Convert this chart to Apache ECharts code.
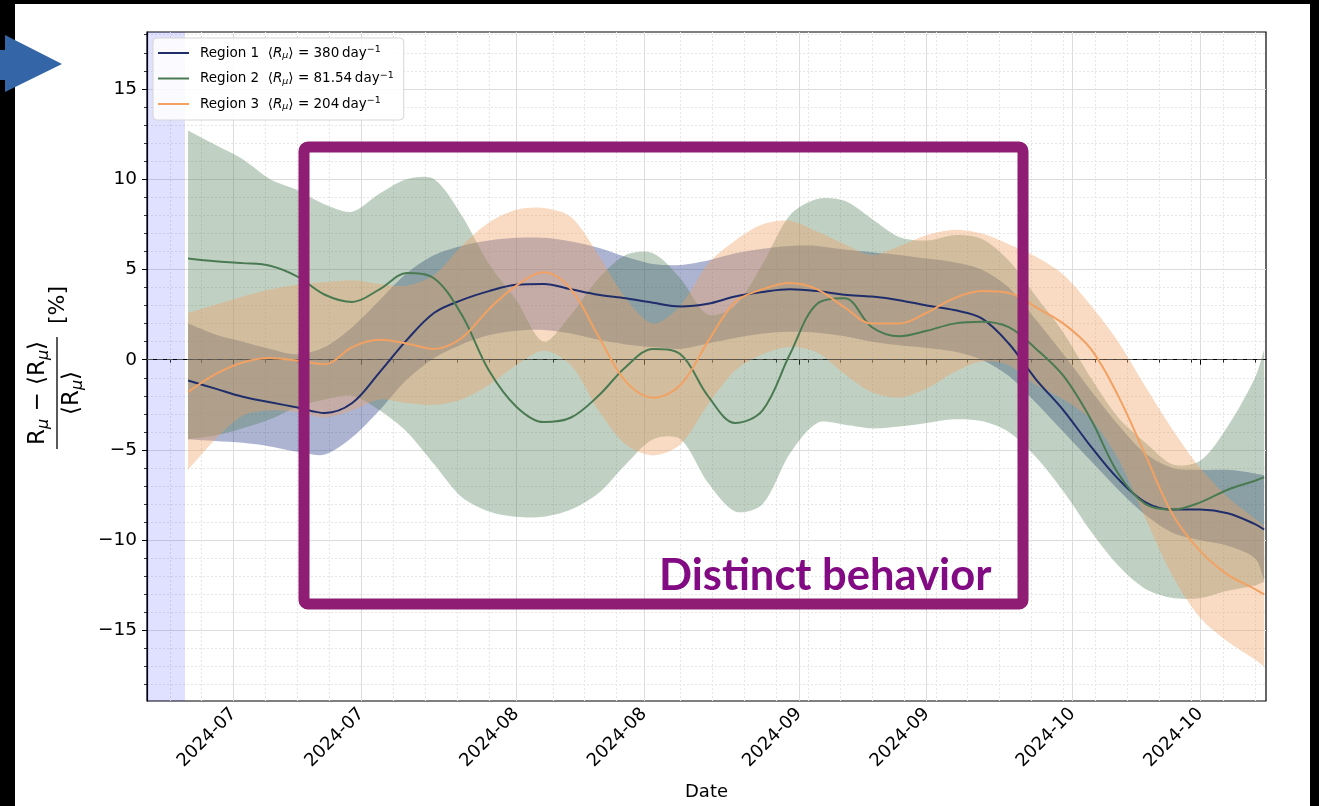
<!DOCTYPE html>
<html>
<head>
<meta charset="utf-8">
<script src="https://cdn.jsdelivr.net/npm/echarts@6/dist/echarts.min.js"></script>
<style>
  html, body { margin: 0; padding: 0; background: #fff; }
  #chart { width: 1319px; height: 806px; }
</style>
</head>
<body>
<div id="chart"></div>
<script>
// sampled every 3 days
const dates = ['2024-06-26','2024-06-29','2024-07-02','2024-07-05','2024-07-08','2024-07-11','2024-07-14','2024-07-17','2024-07-20','2024-07-23',
  '2024-07-26','2024-07-29','2024-08-01','2024-08-04','2024-08-07','2024-08-10','2024-08-13','2024-08-16','2024-08-19','2024-08-22',
  '2024-08-25','2024-08-28','2024-08-31','2024-09-03','2024-09-06','2024-09-09','2024-09-12','2024-09-15','2024-09-18','2024-09-21',
  '2024-09-24','2024-09-27','2024-09-30','2024-10-03','2024-10-06','2024-10-09','2024-10-12','2024-10-15','2024-10-18','2024-10-21','2024-10-22']

const region1Mean = [-1.15,-1.6,-2.05,-2.35,-2.65,-2.95,-2.4,-0.7,1.1,2.6,
  3.3,3.8,4.15,4.2,3.9,3.6,3.4,3.15,2.95,3.1,
  3.5,3.75,3.9,3.8,3.6,3.5,3.3,3.0,2.75,2.3,
  0.9,-1.1,-2.8,-4.8,-6.6,-7.9,-8.3,-8.3,-8.5,-9.1,-9.4]
const region1Upper = [2.0,1.4,1.0,0.6,0.3,0.7,1.8,3.3,4.8,5.8,
  6.3,6.6,6.75,6.75,6.55,6.2,5.7,5.3,5.25,5.5,
  5.9,6.15,6.3,6.3,6.1,5.95,5.8,5.6,5.4,5.0,
  4.0,2.2,0.3,-1.7,-3.6,-5.2,-6.0,-6.1,-6.1,-6.3,-6.4]
const region1Lower = [-4.4,-4.5,-4.6,-4.8,-5.1,-5.25,-4.3,-2.8,-1.1,0.1,
  0.85,1.35,1.6,1.65,1.45,1.1,0.85,0.7,0.6,0.9,
  1.2,1.45,1.55,1.5,1.3,1.0,0.8,0.65,0.45,0.0,
  -0.9,-2.4,-4.0,-5.6,-7.2,-8.6,-9.6,-10.0,-10.3,-11.0,-12.2]

const region2Mean = [5.6,5.45,5.35,5.2,4.6,3.6,3.2,3.9,4.8,4.5,
  2.5,-0.6,-2.6,-3.45,-3.2,-2.0,-0.4,0.6,0.3,-2.0,
  -3.5,-2.8,0.3,3.1,3.4,1.8,1.3,1.6,2.0,2.1,
  1.8,0.6,-0.9,-3.3,-6.3,-8.0,-8.3,-7.9,-7.2,-6.7,-6.5]
const region2Upper = [12.7,11.9,11.1,10.0,9.4,8.6,8.2,9.2,10.0,10.0,
  8.0,5.3,3.3,1.0,2.5,4.5,5.8,5.9,4.5,2.5,
  3.0,5.3,8.0,8.9,8.8,7.8,6.8,6.6,6.9,6.7,
  5.5,3.5,1.5,-1.0,-3.2,-4.6,-5.8,-5.6,-3.7,-1.0,0.55]
const region2Lower = [-4.4,-4.2,-3.8,-3.3,-2.6,-2.2,-2.0,-2.8,-4.0,-5.8,
  -7.6,-8.4,-8.7,-8.7,-8.3,-7.4,-5.8,-4.4,-4.4,-6.8,
  -8.4,-8.0,-5.2,-3.5,-3.6,-3.8,-3.7,-3.5,-3.3,-3.4,
  -4.0,-5.4,-7.3,-9.5,-11.4,-12.7,-13.2,-13.2,-12.8,-12.5,-12.3]

const region3Mean = [-1.8,-0.8,-0.15,0.1,-0.05,-0.25,0.7,1.1,0.9,0.6,
  1.2,2.8,4.1,4.85,3.9,1.3,-1.2,-2.1,-1.4,1.0,
  3.2,3.9,4.25,3.9,2.9,2.0,2.0,2.6,3.4,3.8,
  3.7,2.9,2.0,0.6,-2.0,-5.3,-8.6,-10.6,-11.9,-12.7,-13.0]
const region3Upper = [2.6,3.05,3.5,3.9,4.15,4.3,4.4,4.2,4.1,4.7,
  6.3,7.6,8.3,8.4,7.9,5.8,3.4,2.0,3.0,5.3,
  6.6,7.5,7.7,7.1,6.4,5.8,6.3,6.9,7.2,7.0,
  6.4,5.7,4.7,3.0,1.0,-1.5,-3.9,-6.0,-7.6,-8.8,-9.2]
const region3Lower = [-6.1,-4.4,-3.1,-2.8,-2.9,-3.2,-2.8,-2.2,-2.4,-2.5,
  -2.2,-1.4,-0.3,0.5,-0.3,-2.8,-4.7,-5.3,-4.7,-2.5,
  -0.6,0.3,0.7,0.4,-0.8,-1.8,-2.1,-1.6,-0.7,-0.1,
  -0.3,-1.4,-2.2,-3.3,-5.5,-8.8,-12.0,-14.3,-15.6,-16.6,-17.0]

const regionNames = ['Region 1', 'Region 2', 'Region 3']
const regionMeanRates = ['380', '81.54', '204']

const tickDates = ['2024-07-01','2024-07-15','2024-08-01','2024-08-15','2024-09-01','2024-09-15','2024-10-01','2024-10-15']
const tickLabels = ['2024-07','2024-07','2024-08','2024-08','2024-09','2024-09','2024-10','2024-10']
const yTicks = [-15, -10, -5, 0, 5, 10, 15]
const shadedRange = ['2024-06-21T12:00:00', '2024-06-25T16:00:00']

const DAY = 86400000
const ts = s => new Date(s.length === 10 ? s + 'T00:00:00' : s).getTime()
const xMin = ts('2024-06-21T12:00:00')
const xMax = ts('2024-10-22T05:00:00')
const yMin = -18.9
const yMax = 18.15

const majorX = tickDates.map(ts)
// minor ticks every 3.5 days, dropped when too close to a major one
const minorX = []
for (let t = ts('2024-06-24'); t <= xMax; t += 3.5 * DAY) {
  if (!majorX.some(m => Math.abs(m - t) < 0.6 * DAY)) minorX.push(t)
}
const minorY = []
for (let v = -18; v <= 18; v++) if (v % 5 !== 0) minorY.push(v)

const colors = ['#1f2d6b', '#4a7a52', '#f2a163']
const bandColors = ['#27398a', '#4a7a52', '#f0a060']
const bandOpacity = [0.38, 0.35, 0.38]
const means = [region1Mean, region2Mean, region3Mean]
const uppers = [region1Upper, region2Upper, region3Upper]
const lowers = [region1Lower, region2Lower, region3Lower]

const minus = v => v < 0 ? '\u2212' + Math.abs(v) : String(v)
const axisFont = 'DejaVu Sans'

let series = []
// uncertainty bands: one polygon per region, upper edge then lower edge back
// (end points doubled so the smoothing keeps the vertical ends straight)
regionNames.forEach((name, k) => {
  series.push({
    name: name + ' band',
    type: 'custom',
    data: dates.map((d, i) => [ts(d), lowers[k][i], uppers[k][i]]),
    encode: { x: 0, y: [1, 2] },
    silent: true,
    clip: true,
    z: 2,
    renderItem: (params, api) => {
      if (params.dataIndex !== 0) return null
      const n = dates.length
      const top = dates.map((d, i) => api.coord([ts(d), uppers[k][i]]))
      const bottom = dates.map((d, i) => api.coord([ts(d), lowers[k][i]])).reverse()
      const pts = [top[0]].concat(top, [top[n - 1], bottom[0]], bottom, [bottom[n - 1]])
      return {
        type: 'polygon',
        shape: { points: pts, smooth: 0.3 },
        style: { fill: bandColors[k], opacity: bandOpacity[k] }
      }
    }
  })
})
regionNames.forEach((name, k) => {
  series.push({
    name: name,
    type: 'line',
    data: dates.map((d, i) => [ts(d), means[k][i]]),
    symbol: 'none',
    smooth: 0.35,
    color: colors[k],
    lineStyle: { color: colors[k], width: 2 },
    z: 5
  })
})
// shaded start region and zero line
series[3].markArea = {
  silent: true,
  itemStyle: { color: 'rgba(0,0,255,0.12)' },
  data: [[{ xAxis: ts(shadedRange[0]) }, { xAxis: ts(shadedRange[1]) }]]
}
series[3].markLine = {
  silent: true,
  symbol: 'none',
  label: { show: false },
  lineStyle: { color: '#555', type: [6, 4], width: 1.2 },
  data: [{ yAxis: 0 }]
}

const chart = echarts.init(document.getElementById('chart'))
chart.setOption({
  animation: false,
  backgroundColor: '#fff',
  grid: { left: 147, right: 53, top: 32, bottom: 104, show: true, borderColor: '#000', borderWidth: 1.2, backgroundColor: 'transparent' },
  legend: {
    data: regionNames,
    orient: 'vertical',
    left: 153,
    top: 38,
    icon: 'rect',
    itemWidth: 31,
    itemHeight: 2,
    itemGap: 9.5,
    padding: [7, 10, 8, 5],
    backgroundColor: 'rgba(255,255,255,0.85)',
    borderColor: '#d6d6d6',
    borderWidth: 1,
    borderRadius: 4,
    formatter: name => {
      const k = regionNames.indexOf(name)
      return name + '  \u27e8{i|R}{s|\u03bc}\u27e9 = ' + regionMeanRates[k] + '\u2009day{p|\u22121}'
    },
    textStyle: {
      fontFamily: axisFont, fontSize: 13.5, color: '#000', lineHeight: 16, padding: [0, 0, 0, 6],
      rich: {
        i: { fontFamily: axisFont, fontSize: 13.5, fontStyle: 'italic', lineHeight: 16 },
        s: { fontFamily: axisFont, fontSize: 9.5, fontStyle: 'italic', lineHeight: 10, verticalAlign: 'bottom' },
        p: { fontFamily: axisFont, fontSize: 9.5, lineHeight: 10, verticalAlign: 'top' }
      }
    }
  },
  xAxis: [{
    type: 'value', min: xMin, max: xMax,
    name: 'Date', nameLocation: 'middle', nameGap: 82,
    nameTextStyle: { fontFamily: axisFont, fontSize: 18, color: '#000' },
    axisLine: { lineStyle: { color: '#000', width: 1.2 } },
    axisTick: { customValues: majorX, length: 5, lineStyle: { color: '#000', width: 1 } },
    axisLabel: {
      customValues: majorX, rotate: 45, margin: 10, hideOverlap: false,
      fontFamily: axisFont, fontSize: 18, color: '#000',
      formatter: v => tickLabels[majorX.indexOf(v)] || ''
    },
    splitLine: { show: true, lineStyle: { color: '#dcdcdc', width: 1 } }
  }, {
    type: 'value', min: xMin, max: xMax, position: 'bottom',
    axisLine: { show: false },
    axisTick: { customValues: minorX, length: 3, lineStyle: { color: '#000', width: 0.8 } },
    axisLabel: { show: false },
    splitLine: { show: true, lineStyle: { color: '#e6e6e6', width: 1, type: [2, 2] } }
  }],
  yAxis: [{
    type: 'value', min: yMin, max: yMax,
    axisLine: { show: true, lineStyle: { color: '#000', width: 1.2 } },
    axisTick: { show: true, customValues: yTicks, length: 5, lineStyle: { color: '#000', width: 1 } },
    axisLabel: { customValues: yTicks, fontFamily: axisFont, fontSize: 18.5, color: '#000', margin: 10, formatter: minus },
    splitLine: { show: true, lineStyle: { color: '#dcdcdc', width: 1 } }
  }, {
    type: 'value', min: yMin, max: yMax, position: 'left',
    axisLine: { show: false },
    axisTick: { show: true, customValues: minorY, length: 3, lineStyle: { color: '#000', width: 0.8 } },
    axisLabel: { show: false },
    splitLine: { show: true, lineStyle: { color: '#e6e6e6', width: 1, type: [2, 2] } }
  }],
  series: series,
  graphic: [
    // y axis title: (R_mu - <R_mu>) / <R_mu> [%]
    {
      type: 'group', x: 57, y: 393, rotation: Math.PI / 2, z: 50,
      children: [
        { type: 'text', x: 0, y: -19, style: {
          text: '{r|R}{s|\u03bc}{r| \u2212 \u27e8R}{s|\u03bc}{r|\u27e9}', align: 'center', verticalAlign: 'middle',
          rich: {
            r: { fontFamily: axisFont, fontSize: 23, lineHeight: 28, fill: '#000' },
            s: { fontFamily: axisFont, fontSize: 16, fontStyle: 'italic', lineHeight: 16, verticalAlign: 'bottom', fill: '#000' }
          } } },
        { type: 'line', shape: { x1: -56, y1: 0, x2: 56, y2: 0 }, style: { stroke: '#000', lineWidth: 1.3 } },
        { type: 'text', x: 0, y: 15, style: {
          text: '{r|\u27e8R}{s|\u03bc}{r|\u27e9}', align: 'center', verticalAlign: 'middle',
          rich: {
            r: { fontFamily: axisFont, fontSize: 23, lineHeight: 28, fill: '#000' },
            s: { fontFamily: axisFont, fontSize: 16, fontStyle: 'italic', lineHeight: 16, verticalAlign: 'bottom', fill: '#000' }
          } } },
        { type: 'text', x: 88, y: 1, style: { text: '[%]', fontFamily: axisFont, fontSize: 22, fill: '#000', align: 'center', verticalAlign: 'middle' } }
      ]
    },
    // annotation box and label
    { type: 'rect', z: 60, shape: { x: 304, y: 147, width: 719, height: 457, r: 4 }, style: { fill: null, stroke: '#8f1d74', lineWidth: 11 } },
    { type: 'text', z: 61, x: 659, y: 576, style: { text: 'Distinct behavior', fontFamily: 'Lato', fontWeight: 'bold', fontSize: 43.5, fill: '#820a82', verticalAlign: 'middle' } },
    // slide frame and arrow
    { type: 'rect', z: 70, shape: { x: 0, y: 0, width: 15, height: 806 }, style: { fill: '#000' } },
    { type: 'rect', z: 70, shape: { x: 0, y: 0, width: 1319, height: 4 }, style: { fill: '#000' } },
    { type: 'rect', z: 70, shape: { x: 1310, y: 0, width: 9, height: 806 }, style: { fill: '#000' } },
    { type: 'polygon', z: 71, shape: { points: [[0, 50], [5, 50], [5, 35], [62, 64], [5, 92], [5, 80], [0, 80]] }, style: { fill: '#3465a6' } }
  ]
})
</script>
</body>
</html>
